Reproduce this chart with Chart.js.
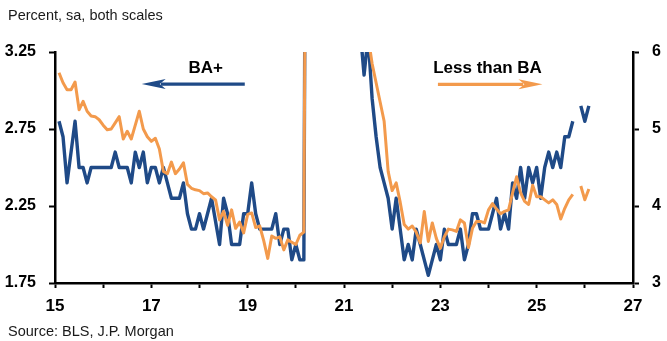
<!DOCTYPE html>
<html>
<head>
<meta charset="utf-8">
<script src="https://cdn.jsdelivr.net/npm/chart.js@4.4.1/dist/chart.umd.min.js"></script>
<style>
  html, body { margin: 0; padding: 0; background: #fff; }
  #wrap { position: relative; width: 667px; height: 341px; }
</style>
</head>
<body>
<div id="wrap"><canvas id="myChart" width="667" height="341"></canvas></div>
<script>
'use strict';
//globals - monthly unemployment rates, Jan 2015 onwards (null = missing month)
let baPlus = [
  2.8, 2.7, 2.4, 2.6, 2.8, 2.5, 2.5, 2.4, 2.5, 2.5, 2.5, 2.5,
  2.5, 2.5, 2.6, 2.5, 2.5, 2.5, 2.4, 2.6, 2.5, 2.6, 2.4, 2.5,
  2.5, 2.4, 2.5, 2.4, 2.3, 2.3, 2.3, 2.4, 2.2, 2.1, 2.1, 2.2,
  2.1, 2.2, 2.3, 2.15, 2.0, 2.3, 2.2, 2.0, 2.0, 2.0, 2.2, 2.2,
  2.4, 2.2, 2.1, 2.1, 2.1, 2.1, 2.2, 2.0, 2.1, 2.1, 1.9, 2.0,
  1.9, 1.9, 8.4, 7.4, 6.9, 6.7, 5.3, 4.8, 4.2, 4.2, 3.8, 4.0,
  3.8, 3.7, 3.6, 3.4, 3.1, 3.35, 2.95, 2.7, 2.5, 2.4, 2.3, 2.1,
  2.3, 2.1, 1.9, 2.0, 1.9, 2.1, 2.0, 1.9, 1.8, 1.9, 2.0, 1.9,
  2.1, 2.0, 2.0, 2.0, 2.1, 1.9, 2.0, 2.2, 2.2, 2.1, 2.1, 2.1,
  2.2, 2.3, 2.1, 2.2, 2.1, 2.4, 2.3, 2.5, 2.3, 2.5, 2.4, 2.5,
  2.3, 2.5, 2.6, 2.5, 2.6, 2.5, 2.7, 2.7, 2.8, null, 2.9, 2.8,
  2.9
];
let lessThanBa = [
  5.73, 5.60, 5.51, 5.51, 5.61, 5.25, 5.36, 5.23, 5.17, 5.16, 5.12, 5.05,
  4.99, 5.00, 5.08, 5.16, 4.87, 4.97, 4.87, 5.05, 5.23, 5.00, 4.90, 4.84,
  4.88, 4.74, 4.45, 4.42, 4.57, 4.42, 4.48, 4.56, 4.28, 4.23, 4.21, 4.20,
  4.16, 4.17, 4.12, 4.08, 3.82, 3.93, 3.75, 3.95, 3.71, 3.79, 3.65, 3.89,
  3.91, 3.72, 3.74, 3.55, 3.32, 3.61, 3.58, 3.60, 3.43, 3.56, 3.53, 3.50,
  3.62, 3.66, 14.0, 12.5, 11.2, 10.4, 9.3, 8.8, 8.2, 7.9, 7.6, 7.3,
  7.1, 6.9, 6.7, 6.5, 6.4, 6.2, 5.85, 5.6, 5.35, 5.1, 4.45, 4.2,
  4.3, 4.05, 3.76, 3.70, 3.74, 3.66, 3.52, 3.93, 3.54, 3.78, 3.58, 3.45,
  3.60, 3.70, 3.69, 3.67, 3.82, 3.78, 3.46, 3.71, 3.80, 3.80, 3.78, 3.95,
  4.03, 3.96, 3.90, 3.93, 3.95, 4.17, 4.38, 4.17, 4.06, 4.02, 4.27, 4.12,
  4.12, 4.08, 4.04, 4.08, 4.02, 3.83, 3.97, 4.08, 4.15, null, 4.26, 4.08,
  4.22
];
let leftTicks = [1.75, 2.25, 2.75, 3.25];
let rightTicks = [3, 4, 5, 6];
let xTickYears = [15, 16, 17, 18, 19, 20, 21, 22, 23, 24, 25, 26, 27];
let xLabelYears = [15, 17, 19, 21, 23, 25, 27];

//x position of each month (end of month, in 2-digit years)
let monthX = baPlus.map((v, i) => 15 + (i + 1) / 12);

let blue = '#1f4a87';
let orange = '#f39a4c';
let fontFamily = "'Liberation Sans', Arial, sans-serif";

//annotations + header/footer text
let textPlugin = {
  id: 'textPlugin',
  afterDraw(chart) {
    let ctx = chart.ctx;
    let x = chart.scales.x;
    let yL = chart.scales.y;
    ctx.save();
    ctx.fillStyle = '#1a1a1a';
    ctx.font = '14.5px ' + fontFamily;
    ctx.textAlign = 'left';
    ctx.textBaseline = 'alphabetic';
    ctx.fillText('Percent, sa, both scales', 8, 19.5);
    ctx.fillText('Source: BLS, J.P. Morgan', 8, 335.5);

    ctx.fillStyle = '#000';
    ctx.font = 'bold 17px ' + fontFamily;
    ctx.textAlign = 'center';
    ctx.fillText('BA+', x.getPixelForValue(18.13), 73);
    ctx.fillText('Less than BA', x.getPixelForValue(23.98), 73);

    drawArrow(ctx, x.getPixelForValue(18.94), x.getPixelForValue(16.8), yL.getPixelForValue(3.042), blue);
    drawArrow(ctx, x.getPixelForValue(22.95), x.getPixelForValue(25.12), yL.getPixelForValue(3.04), orange);
    ctx.restore();
  }
};

function drawArrow(ctx, x0, x1, y, color){
  let dir = x1 > x0 ? 1 : -1;
  let headLen = 24;
  ctx.strokeStyle = color;
  ctx.fillStyle = color;
  ctx.lineWidth = 3.2;
  ctx.beginPath();
  ctx.moveTo(x0, y);
  ctx.lineTo(x1 - dir * headLen * 0.8, y);
  ctx.stroke();
  ctx.beginPath();
  ctx.moveTo(x1, y);
  ctx.lineTo(x1 - dir * headLen, y - 5);
  ctx.lineTo(x1 - dir * headLen * 0.75, y);
  ctx.lineTo(x1 - dir * headLen, y + 5);
  ctx.closePath();
  ctx.fill();
}

let axisGrid = {
  display: true,
  drawOnChartArea: false,
  drawTicks: true,
  tickLength: 6,
  tickWidth: 2,
  tickColor: '#000'
};
let axisBorder = { display: true, color: '#000', width: 2.5 };
let tickFont = { family: fontFamily, size: 16, weight: 'bold' };

const ctx = document.getElementById('myChart');

new Chart(ctx, {
  type: 'line',
  data: {
    labels: monthX,
    datasets: [{
      label: 'Less than BA',
      data: lessThanBa,
      yAxisID: 'y1',
      borderColor: orange,
      borderWidth: 3,
      order: 0
    },
    {
      label: 'BA+',
      data: baPlus,
      yAxisID: 'y',
      borderColor: blue,
      borderWidth: 3.4,
      order: 1
    }]
  },
  options: {
    responsive: false,
    animation: false,
    devicePixelRatio: 1,
    spanGaps: false,
    elements: {
      point: { radius: 0 },
      line: { tension: 0, borderJoinStyle: 'round' }
    },
    layout: { padding: { top: 52, left: 0, right: 0, bottom: 0 } },
    plugins: {
      legend: { display: false },
      tooltip: { enabled: false }
    },
    scales: {
      x: {
        type: 'linear',
        position: 'bottom',
        min: 15,
        max: 27,
        afterBuildTicks: (s) => { s.ticks = xTickYears.map(v => ({ value: v })); },
        afterFit: (s) => { s.height = 58; },
        ticks: {
          autoSkip: false,
          maxRotation: 0,
          padding: 8,
          color: '#000',
          font: { family: fontFamily, size: 17, weight: 'bold' },
          callback: (v) => xLabelYears.includes(v) ? String(v) : ''
        },
        grid: Object.assign({}, axisGrid, { tickLength: 5 }),
        border: axisBorder
      },
      y: {
        position: 'left',
        min: 1.75,
        max: 3.25,
        afterBuildTicks: (s) => { s.ticks = leftTicks.map(v => ({ value: v })); },
        afterFit: (s) => { s.width = 55; },
        ticks: {
          padding: 13,
          color: '#000',
          font: tickFont,
          callback: (v) => v.toFixed(2)
        },
        grid: axisGrid,
        border: axisBorder
      },
      y1: {
        position: 'right',
        min: 3,
        max: 6,
        afterBuildTicks: (s) => { s.ticks = rightTicks.map(v => ({ value: v })); },
        afterFit: (s) => { s.width = 34; },
        ticks: {
          padding: 13,
          color: '#000',
          font: tickFont,
          callback: (v) => String(v)
        },
        grid: axisGrid,
        border: axisBorder
      }
    }
  },
  plugins: [textPlugin]
});
</script>
</body>
</html>
